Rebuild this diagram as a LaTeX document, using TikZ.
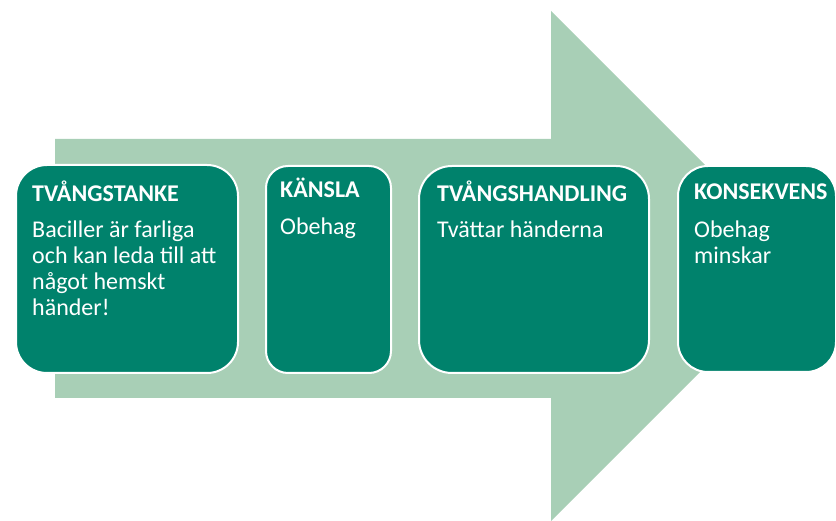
\documentclass[tikz,border=0pt]{standalone}
\usepackage{fontspec}
\setmainfont{Carlito}
\definecolor{arrowGreen}{RGB}{168,207,182}
\definecolor{boxTeal}{RGB}{0,130,108}
\tikzset{
  stepBox/.style={draw=white, line width=2pt, fill=boxTeal, rounded corners=#1, anchor=north west, inner sep=0pt},
  stepText/.style={text=white, anchor=base west, inner sep=0pt, align=flush left, font=\fontsize{24}{25.7}\selectfont}
}

\begin{document}
\begin{tikzpicture}[x=1pt, y=-1pt]

    % page
    \useasboundingbox (0,0) rectangle (836,521);

    % big arrow in the back
    \fill[arrowGreen] (55,139) -- (551,139) -- (551,11) -- (806,266) -- (551,521) -- (551,398) -- (55,398) -- cycle;

    % boxes
    \node[stepBox=31pt, minimum width=222pt, minimum height=208pt] (tanke) at (15,164) {};
    \node[stepBox=22pt, minimum width=125pt, minimum height=207pt] (kansla) at (265,165) {};
    \node[stepBox=33pt, minimum width=230pt, minimum height=207pt] (handling) at (418,165) {};
    \node[stepBox=30pt, minimum width=158pt, minimum height=206pt] (konsekvens) at (677,165) {};

    % titles
    \node[stepText] (tankeTitle) at (32,202) {\textbf{TVÅNGSTANKE}};
    \node[stepText] (kanslaTitle) at (280,198) {\textbf{KÄNSLA}};
    \node[stepText] (handlingTitle) at (437,202) {\textbf{TVÅNGSHANDLING}};
    \node[stepText] (konsekvensTitle) at (694,200) {\textbf{KONSEKVENS}};

    % texts
    \node[stepText, text width=200pt] (tankeText) at (32,238) {Baciller är farliga\\och kan leda till att\\något hemskt\\händer!};
    \node[stepText, text width=110pt] (kanslaText) at (280,235) {Obehag};
    \node[stepText, text width=200pt] (handlingText) at (437,238) {Tvättar händerna};
    \node[stepText, text width=140pt] (konsekvensText) at (694,238) {Obehag\\minskar};

\end{tikzpicture}
\end{document}
